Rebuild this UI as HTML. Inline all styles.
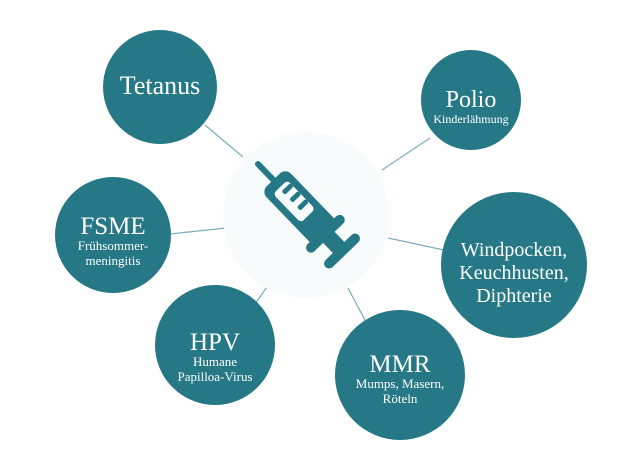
<!DOCTYPE html>
<html><head><meta charset="utf-8"><style>html,body{margin:0;padding:0;background:#fff}svg{display:block}</style></head>
<body>
<svg width="620" height="460" viewBox="0 0 620 460" xmlns="http://www.w3.org/2000/svg" font-family="'Liberation Serif', serif" fill="#fff">
<g stroke="#7fb0bc" stroke-width="1.3">
<line x1="205" y1="125" x2="243" y2="157"/>
<line x1="382" y1="170" x2="430" y2="138"/>
<line x1="170" y1="234" x2="226" y2="228"/>
<line x1="388" y1="238" x2="444" y2="250"/>
<line x1="255" y1="304" x2="267" y2="287"/>
<line x1="348" y1="288" x2="366" y2="322"/>
</g>
<circle cx="306" cy="215" r="83" fill="#f8fbfb"/>
<g fill="#267886">
<circle cx="160" cy="87" r="57"/>
<circle cx="471" cy="100" r="50"/>
<circle cx="113" cy="235" r="58"/>
<circle cx="514" cy="265" r="73"/>
<circle cx="215" cy="345" r="60"/>
<circle cx="400" cy="375" r="65"/>
</g>
<!-- syringe -->
<g transform="translate(258,164) rotate(46)" fill="#267886">
<rect x="-3" y="-3" width="30" height="6" rx="3"/>
<rect x="22" y="-17" width="78" height="34" rx="8"/>
<rect x="32" y="-10" width="40" height="20" rx="4" fill="#f8fbfb"/>
<rect x="36" y="-10" width="5" height="12" rx="2"/>
<rect x="47" y="-10" width="5" height="12" rx="2"/>
<rect x="58" y="-10" width="5" height="12" rx="2"/>
<rect x="92" y="-25" width="10" height="50" rx="5"/>
<rect x="98" y="-8" width="22" height="16"/>
<rect x="116" y="-23" width="10" height="46" rx="5"/>
</g>
<g text-anchor="middle">
<text x="160" y="94" font-size="26">Tetanus</text>
<text x="471" y="107" font-size="24">Polio</text>
<text x="471" y="123" font-size="12">Kinderlähmung</text>
<text x="113" y="234" font-size="25">FSME</text>
<text x="113" y="250" font-size="13">Frühsommer-</text>
<text x="113" y="265" font-size="13">meningitis</text>
<text x="514" y="256" font-size="20">Windpocken,</text>
<text x="514" y="279" font-size="20">Keuchhusten,</text>
<text x="514" y="302" font-size="20">Diphterie</text>
<text x="215" y="350" font-size="25">HPV</text>
<text x="215" y="366" font-size="13">Humane</text>
<text x="215" y="381" font-size="13">Papilloa-Virus</text>
<text x="400" y="372" font-size="25">MMR</text>
<text x="400" y="388" font-size="13">Mumps, Masern,</text>
<text x="400" y="403" font-size="13">Röteln</text>
</g>
</svg>
</body></html>
